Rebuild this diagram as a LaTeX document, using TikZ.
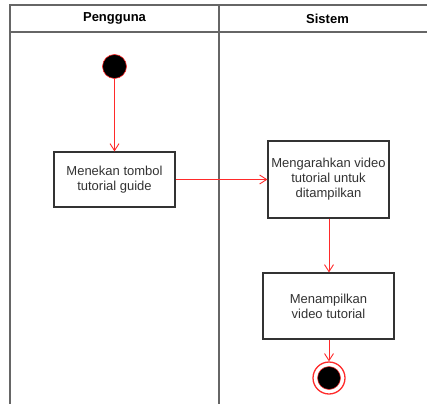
\documentclass[tikz,border=0pt]{standalone}
\usepackage{fontspec}
\setmainfont{Liberation Sans}
\usetikzlibrary{arrows.meta}
\definecolor{flow}{HTML}{FF2A2A}
\definecolor{lane}{HTML}{666666}
\definecolor{ink}{HTML}{333333}
\tikzset{
  lanebox/.style={draw=lane, line width=1.4pt},
  action/.style={draw=ink, line width=1.1pt, fill=white, text=ink,
    font=\fontsize{13}{15}\selectfont, align=center, inner sep=0pt},
  flowline/.style={draw=flow, line width=0.9pt,
    -{Straight Barb[length=7pt,width=9pt,line width=0.9pt]}},
  headtext/.style={font=\fontsize{13}{15}\selectfont\bfseries, text=black}
}
\begin{document}
\begin{tikzpicture}[x=1pt,y=-1pt]
  \useasboundingbox (0,0) rectangle (427,403);
  \begin{scope}
    \clip (0,0) rectangle (427,403);
    % swimlane frame
    \draw[lanebox] (10,410) -- (10,5) -- (440,5);
    \draw[lanebox] (10,32) -- (440,32);
    \draw[lanebox] (219,5) -- (219,410);
    \draw[lanebox] (436,5) -- (436,410);
  \end{scope}
  \node[headtext] (h1) at (114.5,18.5) {Pengguna};
  \node[headtext] (h2) at (327.5,18.5) {Sistem};

  % initial node
  \node[circle, fill=black, draw=flow, line width=0.6pt, minimum size=24pt, inner sep=0pt] (start) at (114.5,66.5) {};

  % actions
  \node[action, minimum width=121pt, minimum height=55pt] (a1) at (114.5,179.5) {Menekan tombol\\tutorial guide};
  \node[action, minimum width=121pt, minimum height=77pt] (a2) at (328.5,179.5) {Mengarahkan video\\tutorial untuk\\ditampilkan};
  \node[action, minimum width=131pt, minimum height=66pt] (a3) at (328.5,306) {Menampilkan\\video tutorial};

  % final node
  \node[circle, draw=flow, line width=1.3pt, fill=white, minimum size=32pt, inner sep=0pt] (stop) at (329,378) {};
  \node[circle, fill=black, draw=flow, line width=0.5pt, minimum size=23pt, inner sep=0pt] (stopin) at (stop.center) {};

  % control flow
  \draw[flowline] (start) -- (a1);
  \draw[flowline] (a1) -- (a2);
  \draw[flowline] (a2.south -| stop) -- (a3.north -| stop);
  \draw[flowline] (a3.south -| stop) -- (stop);
\end{tikzpicture}
\end{document}
